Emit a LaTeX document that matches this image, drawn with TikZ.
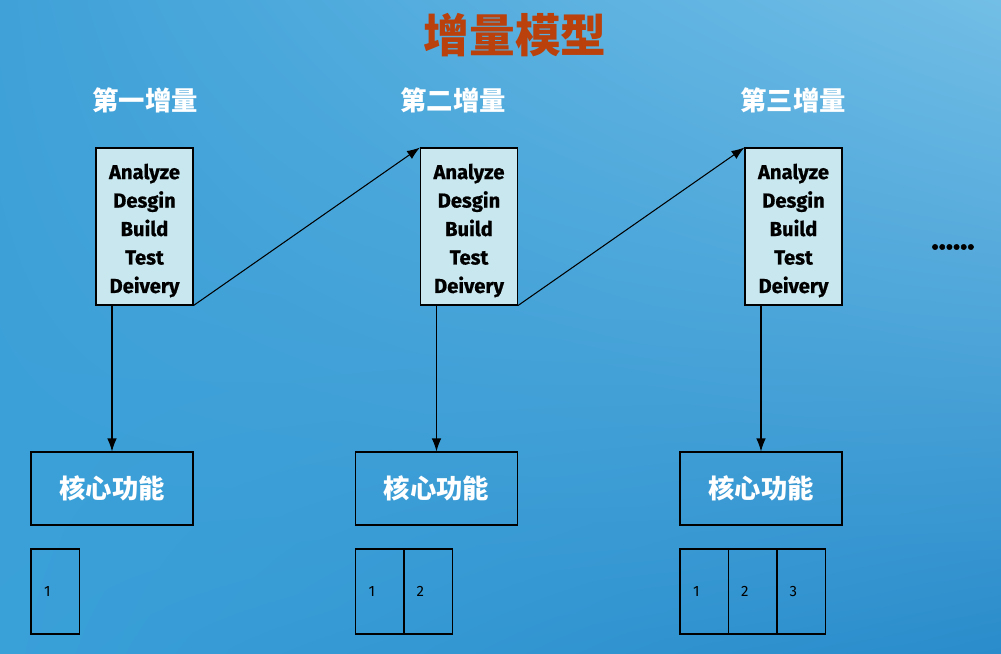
\documentclass[tikz,border=0pt]{standalone}
\usepackage{fontspec}
\setmainfont{Fira Sans}
\newfontfamily\cjkfont{Noto Sans CJK SC}
\usetikzlibrary{arrows.meta,shadings}

\definecolor{bgul}{HTML}{3FA1D8}
\definecolor{bgur}{HTML}{72BEE6}
\definecolor{bgll}{HTML}{3AA0D8}
\definecolor{bglr}{HTML}{2A8CCB}
\definecolor{phasefill}{HTML}{C8E7EE}
\definecolor{titlered}{HTML}{BA400C}

\tikzset{
  phase/.style={draw=black, fill=phasefill, minimum width=1.94cm, minimum height=3.14cm,
    inner sep=0pt, align=center,
    font=\bfseries\addfontfeatures{FakeBold=0.8}\fontsize{11.5}{16.2}\selectfont},
  corebox/.style={draw=black, minimum width=3.24cm, minimum height=1.46cm,
    text=white, font=\cjkfont\bfseries\fontsize{15}{18}\selectfont},
  stagetitle/.style={text=white, font=\cjkfont\bfseries\fontsize{15}{18}\selectfont},
  cell/.style={draw=black, minimum width=0.97cm, minimum height=1.7cm, inner sep=0pt},
  num/.style={font=\fontsize{8.5}{10}\selectfont, xshift=-0.16cm},
  link/.style={-{Latex[length=2.6mm,width=1.9mm]}, line width=0.6pt}
}

\begin{document}
\begin{tikzpicture}[x=0.02cm, y=-0.02cm, line width=0.6pt]
  % background
  \shade[upper left=bgul, upper right=bgur, lower left=bgll, lower right=bglr]
    (0,0) rectangle (1001,653);
  \useasboundingbox (0,0) rectangle (1001,653);

  \node[text=titlered, font=\cjkfont\bfseries\fontsize{26}{30}\selectfont] (title) at (515,35) {增量模型};

  \foreach \s/\lx/\name [count=\i] in {0/145/第一增量, 324.5/453/第二增量, 649/793/第三增量} {
    \node[stagetitle] (stage\i) at (\lx,100) {\name};
    \node[phase] (box\i) at (144.5+\s,226.5) {\rule{0pt}{0.47cm}Analyze\\Desgin\\Build\\Test\\Deivery};
    \node[corebox] (core\i) at (112+\s,488.5) {核心功能};
    \draw[link] (box\i.south -| core\i.north) -- (core\i.north);
    \foreach \j in {1,...,\i} % increment cells
      \node[cell, label={[num]center:\j}] (cell\i\j) at (55.25+\s+48.5*\j-48.5,591.5) {};
  }

  \draw[link] (box1.south east) -- (box2.north west);
  \draw[link] (box2.south east) -- (box3.north west);

  \node[font=\bfseries\addfontfeatures{FakeBold=1.5}\fontsize{17}{18}\selectfont] (more) at (953,247) {......};
\end{tikzpicture}
\end{document}
